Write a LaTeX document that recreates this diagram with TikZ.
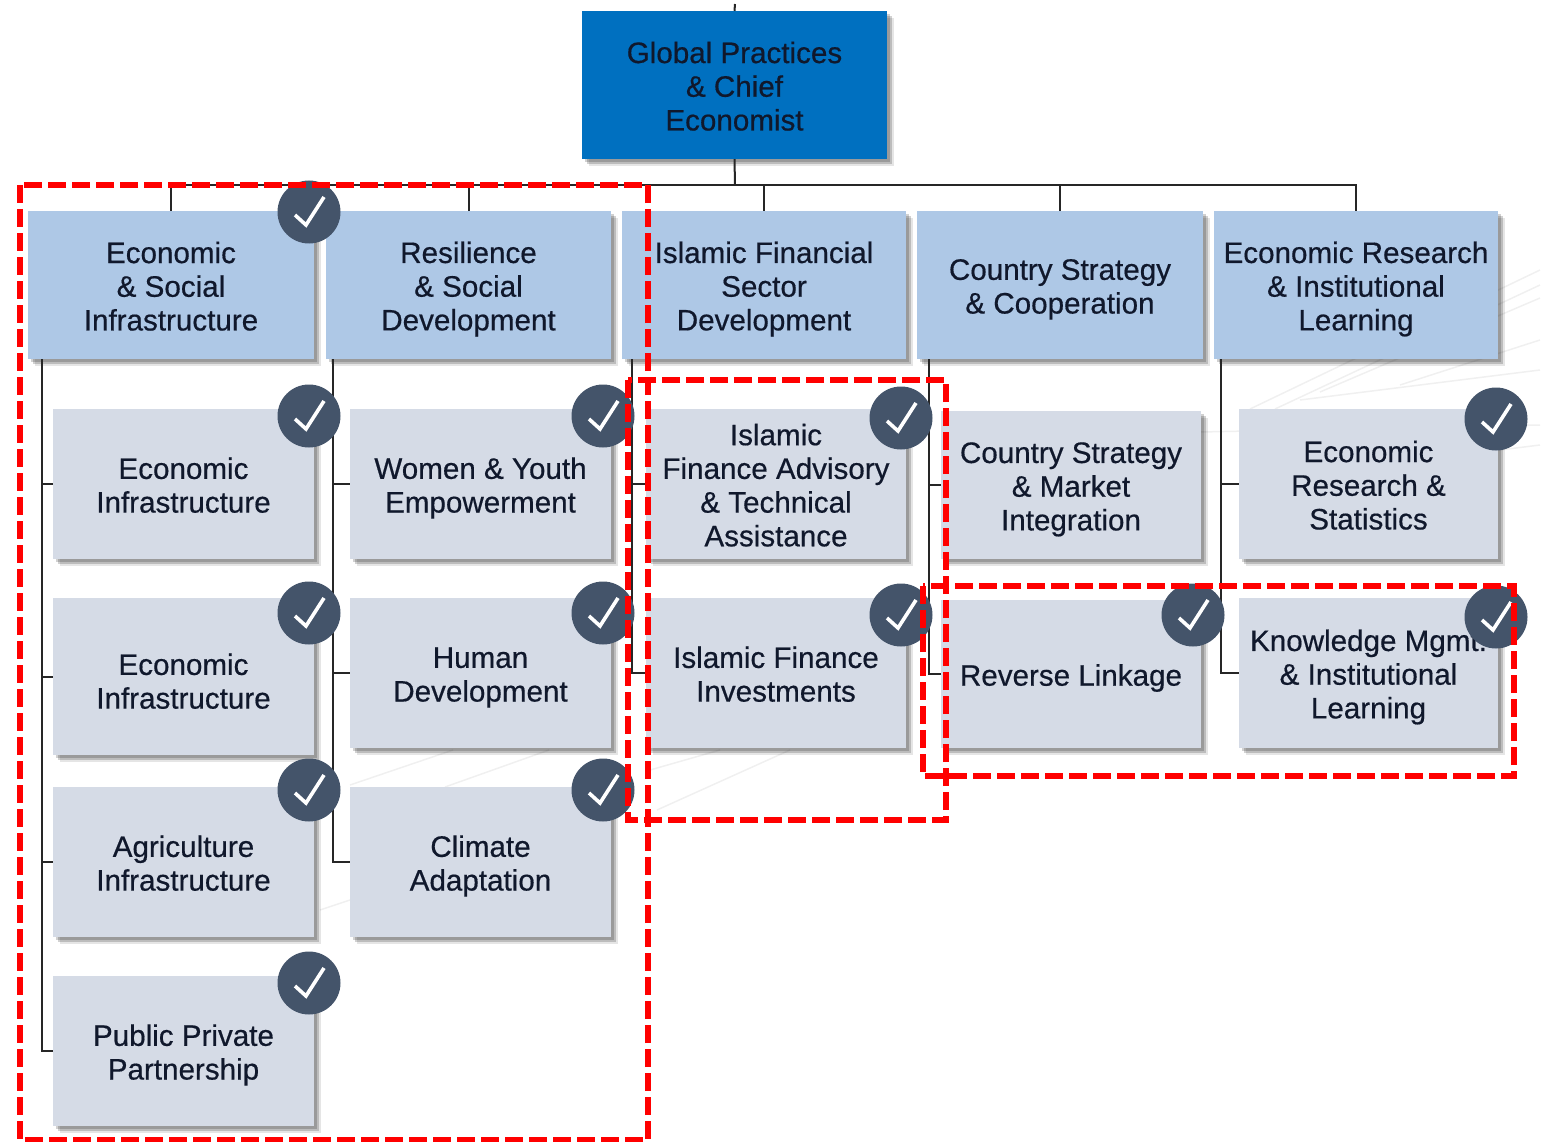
\documentclass[tikz,border=0pt]{standalone}
\usepackage{fontspec}
\setmainfont[FakeBold=0.5]{Liberation Sans}
\usetikzlibrary{shadows}
\definecolor{rootblue}{HTML}{0070C0}
\definecolor{levelblue}{HTML}{AEC8E6}
\definecolor{unitgrey}{HTML}{D5DBE6}
\definecolor{badgeblue}{HTML}{44546A}
\definecolor{labelink}{HTML}{10182C}
\newcommand{\lift}{\rule{0pt}{29.5pt}}
\tikzset{
  softshadow/.style={
    drop shadow={shadow xshift=7,shadow yshift=7,fill=black,opacity=.10},
    drop shadow={shadow xshift=5,shadow yshift=5,fill=black,opacity=.18},
    drop shadow={shadow xshift=3,shadow yshift=3,fill=black,opacity=.18}},
  orgbox/.style={rectangle,inner sep=0,align=center,text=labelink,softshadow,
    font=\fontsize{29.6}{33.7}\selectfont,
    execute at end node={\rule[-6pt]{0pt}{6pt}}},
  rootbox/.style={orgbox,fill=rootblue,minimum width=305,minimum height=148},
  levelbox/.style={orgbox,fill=levelblue,minimum height=148},
  unitbox/.style={orgbox,fill=unitgrey,minimum width=261,minimum height=150},
  orgline/.style={draw=black!85,line width=2},
  haze/.style={draw=black!6,line width=1.5},
  badge/.style={circle,fill=badgeblue,minimum size=63,inner sep=0,
    path picture={\draw[white,line width=3.6,line join=miter]
      (path picture bounding box.center) ++(-14,3) -- ++(11,10) -- ++(18,-28);}},
  redbox/.style={draw=red,line width=5.5,dash pattern=on 18 off 6}
}
\begin{document}
\begin{tikzpicture}[x=1pt,y=-1pt]
  \useasboundingbox (0,0) rectangle (1547,1142);
  % watermark
  \draw [haze] (1250,409)--(1540,270);
  \draw [haze] (1275,409)--(1540,285);
  \draw [haze] (1320,392)--(1540,298);
  \draw [haze] (1400,385)--(1540,340);
  \draw [haze] (1300,400)--(1540,370);
  \draw [haze] (1200,432)--(1540,425);
  \draw [haze] (1500,450)--(1540,445);
  \draw [haze] (350,785)--(453,750);
  \draw [haze] (445,787)--(549,750);
  \draw [haze] (657,810)--(790,750);
  \draw [haze] (650,770)--(720,750);
  \draw [haze] (320,910)--(350,900);
  % boxes
  \node [rootbox] (root) at (734.5,85) {\lift Global Practices\\\& Chief\\Economist};
  \node [levelbox,minimum width=286] (ecosoc) at (171,285) {\lift Economic\\\& Social\\Infrastructure};
  \node [levelbox,minimum width=285] (ressoc) at (468.5,285) {\lift Resilience\\\& Social\\Development};
  \node [levelbox,minimum width=284] (islfin) at (764,285) {\lift Islamic Financial\\Sector\\Development};
  \node [levelbox,minimum width=286] (cntry) at (1060,285) {\lift Country Strategy\\\& Cooperation};
  \node [levelbox,minimum width=284] (ecores) at (1356,285) {\lift Economic Research\\\& Institutional\\Learning};
  \node [unitbox] (ecoinfa) at (183.5,484) {\lift Economic\\Infrastructure};
  \node [unitbox,minimum height=157] (ecoinfb) at (183.5,676.5) {\rule{0pt}{36.5pt}Economic\\Infrastructure};
  \node [unitbox] (agri) at (183.5,862) {\lift Agriculture\\Infrastructure};
  \node [unitbox] (ppp) at (183.5,1051) {\lift Public Private\\Partnership};
  \node [unitbox] (women) at (480.5,484) {\lift Women \& Youth\\Empowerment};
  \node [unitbox] (human) at (480.5,673) {\lift Human\\Development};
  \node [unitbox] (climate) at (480.5,862) {\lift Climate\\Adaptation};
  \node [unitbox,minimum width=260] (advisory) at (776,484) {\lift Islamic\\Finance Advisory\\\& Technical\\Assistance};
  \node [unitbox,minimum width=260] (invest) at (776,673) {\lift Islamic Finance\\Investments};
  \node [unitbox,minimum width=260,minimum height=148] (market) at (1071,485) {\lift Country Strategy\\\& Market\\Integration};
  \node [unitbox,minimum width=260,minimum height=148] (reverse) at (1071,674) {\lift Reverse Linkage};
  \node [unitbox,minimum width=259] (statist) at (1368.5,484) {\lift Economic\\Research \&\\Statistics};
  \node [unitbox,minimum width=259] (knowl) at (1368.5,673) {\lift Knowledge Mgmt.\\\& Institutional\\Learning};
  % connectors
  \coordinate (bus) at (735,185);
  \coordinate (rootup) at (735,4);
  \coordinate (ecosoctrunk) at (42,359);
  \coordinate (ressoctrunk) at (333,359);
  \coordinate (islfintrunk) at (632,359);
  \coordinate (cntrytrunk) at (929,359);
  \coordinate (ecorestrunk) at (1221,359);
  \draw [orgline] (rootup)--(root.north);
  \draw [orgline] (root.south)--(bus);
  \draw [orgline] (ecosoc.north)|-(bus);
  \draw [orgline] (ressoc.north)|-(bus);
  \draw [orgline] (islfin.north)|-(bus);
  \draw [orgline] (cntry.north)|-(bus);
  \draw [orgline] (ecores.north)|-(bus);
  \draw [orgline] (ecosoctrunk)|-(ecoinfa.west);
  \draw [orgline] (ecosoctrunk)|-(ecoinfb.west);
  \draw [orgline] (ecosoctrunk)|-(agri.west);
  \draw [orgline] (ecosoctrunk)|-(ppp.west);
  \draw [orgline] (ressoctrunk)|-(women.west);
  \draw [orgline] (ressoctrunk)|-(human.west);
  \draw [orgline] (ressoctrunk)|-(climate.west);
  \draw [orgline] (islfintrunk)|-(advisory.west);
  \draw [orgline] (islfintrunk)|-(invest.west);
  \draw [orgline] (cntrytrunk)|-(market.west);
  \draw [orgline] (cntrytrunk)|-(reverse.west);
  \draw [orgline] (ecorestrunk)|-(statist.west);
  \draw [orgline] (ecorestrunk)|-(knowl.west);
  % badges
  \node [badge] (tick1) at (309,212) {};
  \node [badge] (tick2) at (309,416) {};
  \node [badge] (tick3) at (309,613) {};
  \node [badge] (tick4) at (309,790) {};
  \node [badge] (tick5) at (309,983) {};
  \node [badge] (tick6) at (603,416) {};
  \node [badge] (tick7) at (603,613) {};
  \node [badge] (tick8) at (603,790) {};
  \node [badge] (tick9) at (901,418) {};
  \node [badge] (tick10) at (901,615) {};
  \node [badge] (tick11) at (1193,615) {};
  \node [badge] (tick12) at (1496,419) {};
  \node [badge] (tick13) at (1496,617) {};
  % red frames
  \draw [redbox] (20,185) rectangle (648,1140);
  \draw [redbox] (628,380) rectangle (946,820);
  \draw [redbox] (923,586) rectangle (1514,776);
\end{tikzpicture}
\end{document}
